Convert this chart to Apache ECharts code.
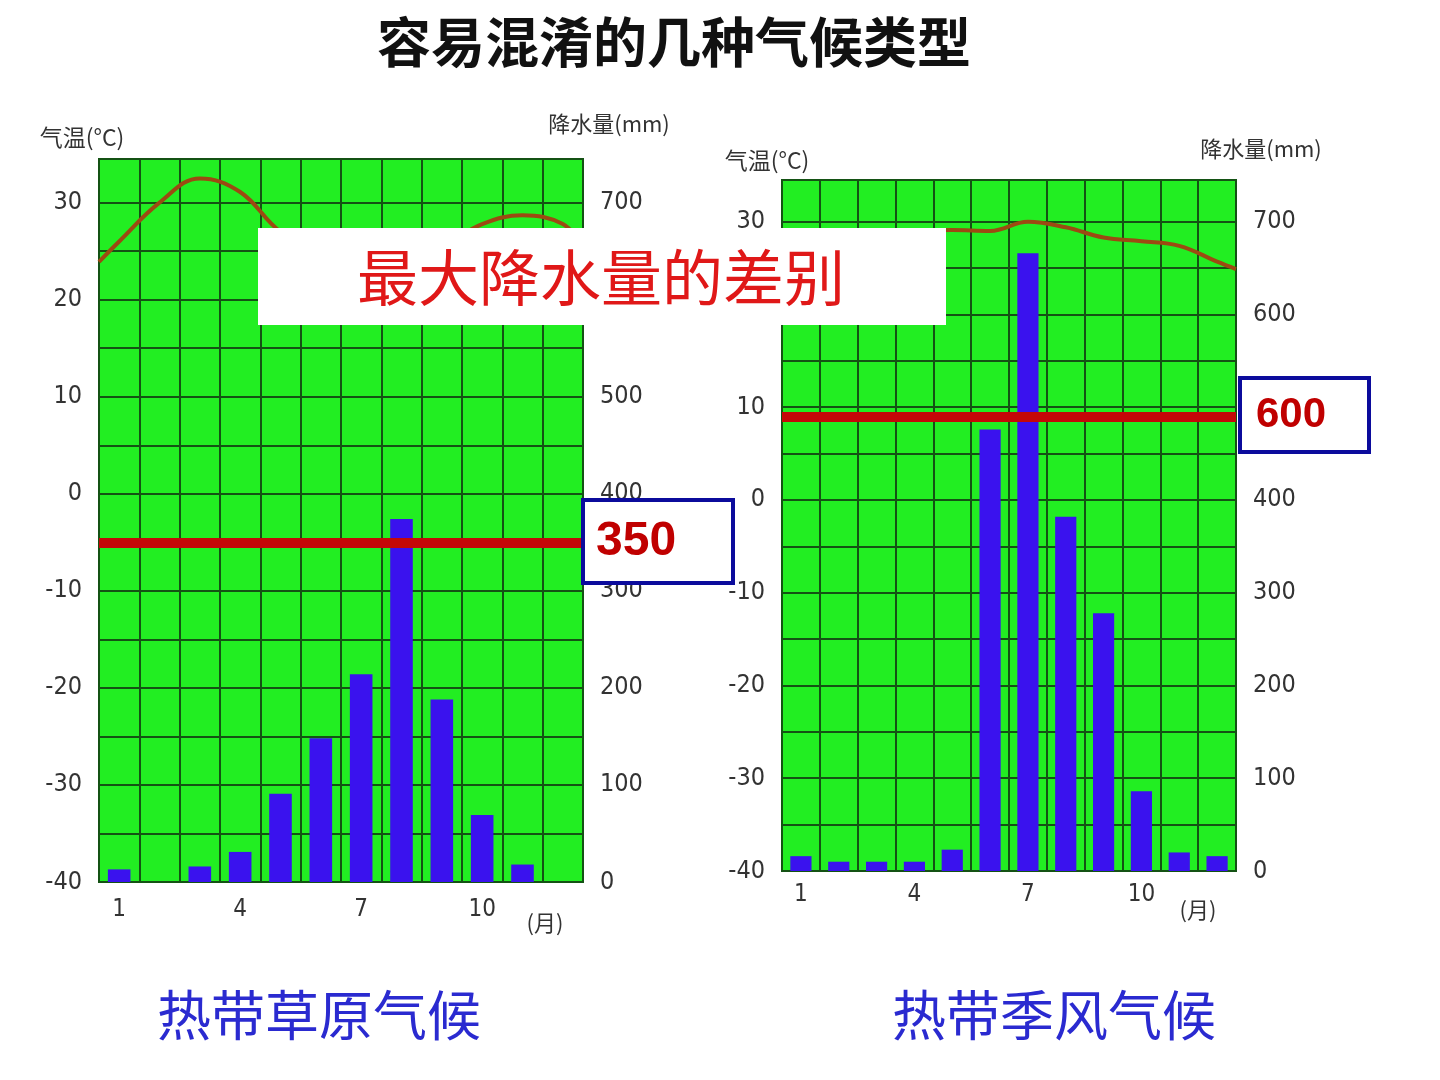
<!DOCTYPE html>
<html>
<head>
<meta charset="utf-8">
<title>容易混淆的几种气候类型</title>
<script src="https://cdn.jsdelivr.net/npm/echarts@6/dist/echarts.min.js"></script>
<style>
  html, body { margin: 0; padding: 0; background: #fff; }
  #chart { width: 1440px; height: 1080px; }
</style>
</head>
<body>
<div id="chart"></div>
<script>
// months on the category axis
const months = ['1', '2', '3', '4', '5', '6', '7', '8', '9', '10', '11', '12']
// positions of the temperature curve points (month units, edges included)
const tempMonths = [0.5, 1, 2, 3, 4, 5, 6, 7, 8, 9, 10, 11, 12, 12.5]

// 热带草原气候
const savannaRain = [13, 0, 16, 31, 91, 148, 214, 374, 188, 69, 18, 0]
const savannaTemp = [23.9, 26.0, 30.0, 32.5, 31.1, 27.0, 25.0, 24.0, 24.2, 25.5, 27.8, 28.7, 27.8, 25.5]
const savannaMark = 350
const savannaMarkLabel = '350'

// 热带季风气候
const monsoonRain = [16, 10, 10, 10, 23, 476, 666, 382, 278, 86, 20, 16]
const monsoonTemp = [27.0, 27.5, 28.0, 28.5, 29.0, 29.1, 29.0, 30.0, 29.4, 28.3, 27.9, 27.4, 25.7, 24.9]
const monsoonMark = 490
const monsoonMarkLabel = '600'

// axis ranges
const tempMin = -40
const tempMax = 34.5
const rainMin = 0
const rainMax = 745

const tickFont = "'Liberation Sans Narrow', 'DejaVu Sans Condensed', 'Liberation Sans', sans-serif"
const cjkFont = "'Noto Sans CJK SC', sans-serif"
const green = '#22ee22'
const gridLine = '#145214'
const barBlue = '#3a12ee'
const lineBrown = '#9c4a12'
const markRed = '#c40808'

const myChart = echarts.init(document.getElementById('chart'))

const tempAxis = (gridIndex, nameStyle) => ({
  type: 'value',
  gridIndex,
  position: 'left',
  min: tempMin,
  max: tempMax,
  interval: 5,
  name: '气温(°C)',
  nameLocation: 'end',
  nameGap: nameStyle.gap,
  nameTextStyle: {
    fontFamily: cjkFont,
    fontSize: 23,
    color: '#333',
    padding: nameStyle.padding,
  },
  axisLine: { show: false },
  axisTick: { show: false },
  axisLabel: {
    margin: 17,
    fontFamily: tickFont,
    fontSize: 25,
    color: '#333',
    formatter: (v) => (v % 10 === 0 ? String(v) : ''),
  },
  splitLine: { show: true, lineStyle: { color: gridLine, width: 2 } },
})

const rainAxis = (gridIndex, nameStyle) => ({
  type: 'value',
  gridIndex,
  position: 'right',
  min: rainMin,
  max: rainMax,
  interval: 100,
  name: '降水量(mm)',
  nameLocation: 'end',
  nameGap: nameStyle.gap,
  nameTextStyle: {
    fontFamily: cjkFont,
    fontSize: 22,
    color: '#333',
    padding: nameStyle.padding,
  },
  axisLine: { show: false },
  axisTick: { show: false },
  axisLabel: {
    margin: 17,
    fontFamily: tickFont,
    fontSize: 25,
    color: '#333',
    formatter: (v) => (v % 100 === 0 ? String(v) : ''),
  },
  splitLine: { show: false },
})

const monthAxis = (gridIndex, labelMargin) => ({
  type: 'category',
  gridIndex,
  data: months,
  boundaryGap: true,
  axisLine: { show: true, lineStyle: { color: gridLine, width: 2 } },
  axisTick: { show: false },
  axisLabel: {
    margin: labelMargin,
    fontFamily: tickFont,
    fontSize: 24,
    color: '#333',
    interval: (i) => i % 3 === 0,
  },
  splitLine: { show: true, interval: 0, lineStyle: { color: gridLine, width: 2 } },
})

const curveAxis = (gridIndex) => ({
  type: 'value',
  gridIndex,
  min: 0.5,
  max: 12.5,
  show: false,
})

const barSeries = (xi, yi, data, mark) => ({
  type: 'bar',
  xAxisIndex: xi,
  yAxisIndex: yi,
  data,
  barWidth: '56%',
  itemStyle: { color: barBlue },
  z: 3,
  markLine: {
    silent: true,
    symbol: 'none',
    label: { show: false },
    lineStyle: { color: markRed, width: 10, type: 'solid' },
    data: [{ yAxis: mark }],
    z: 5,
  },
})

const tempSeries = (xi, yi, temps) => ({
  type: 'line',
  xAxisIndex: xi,
  yAxisIndex: yi,
  data: tempMonths.map((m, i) => [m, temps[i]]),
  smooth: 0.4,
  symbol: 'none',
  lineStyle: { color: lineBrown, width: 4 },
  z: 4,
})

const overlayText = (x, y, text, fill, font) => ({
  type: 'text',
  z: 100,
  zlevel: 1,
  style: { x, y, text, fill, font, textAlign: 'center', textVerticalAlign: 'middle' },
})

const markBox = (x, y, w, h, text, tx, size) => [
  {
    type: 'rect',
    z: 100,
    zlevel: 1,
    shape: { x, y, width: w, height: h },
    style: { fill: '#fff', stroke: '#0b0b9c', lineWidth: 4 },
  },
  {
    type: 'text',
    z: 101,
    zlevel: 1,
    style: {
      x: tx,
      y: y + h / 2,
      text,
      fill: '#c00000',
      font: `bold ${size}px 'Liberation Sans', Arial, sans-serif`,
      textVerticalAlign: 'middle',
    },
  },
]

const option = {
  backgroundColor: '#fff',
  animation: false,
  grid: [
    { left: 99, top: 159, width: 484, height: 723, show: true, backgroundColor: green, borderColor: gridLine, borderWidth: 2 },
    { left: 782, top: 180, width: 454, height: 691, show: true, backgroundColor: green, borderColor: gridLine, borderWidth: 2 },
  ],
  xAxis: [
    monthAxis(0, 16),
    curveAxis(0),
    monthAxis(1, 12),
    curveAxis(1),
  ],
  yAxis: [
    tempAxis(0, { gap: 10, padding: [0, 34, 0, 0] }),
    rainAxis(0, { gap: 24, padding: [0, 0, 0, 52] }),
    tempAxis(1, { gap: 8, padding: [0, 30, 0, 0] }),
    rainAxis(1, { gap: 20, padding: [0, 0, 0, 50] }),
  ],
  series: [
    barSeries(0, 1, savannaRain, savannaMark),
    tempSeries(1, 0, savannaTemp),
    barSeries(2, 3, monsoonRain, monsoonMark),
    tempSeries(3, 2, monsoonTemp),
  ],
  graphic: [
    overlayText(674, 42, '容易混淆的几种气候类型', '#111', "bold 54px 'Noto Sans CJK SC', sans-serif"),
    {
      type: 'rect',
      z: 100,
      zlevel: 1,
      shape: { x: 258, y: 228, width: 688, height: 97 },
      style: { fill: '#fff' },
    },
    overlayText(601, 278, '最大降水量的差别', '#e01818', "61px 'Noto Sans CJK SC', sans-serif"),
    ...markBox(583, 500, 150, 83, savannaMarkLabel, 596, 48),
    ...markBox(1240, 378, 129, 74, monsoonMarkLabel, 1256, 42),
    overlayText(545, 923, '(月)', '#333', "22px 'Noto Sans CJK SC', sans-serif"),
    overlayText(1198, 910, '(月)', '#333', "22px 'Noto Sans CJK SC', sans-serif"),
    overlayText(319, 1015, '热带草原气候', '#2a2ad0', "54px 'Noto Sans CJK SC', sans-serif"),
    overlayText(1054, 1015, '热带季风气候', '#2a2ad0', "54px 'Noto Sans CJK SC', sans-serif"),
  ],
}

myChart.setOption(option)
</script>
</body>
</html>
